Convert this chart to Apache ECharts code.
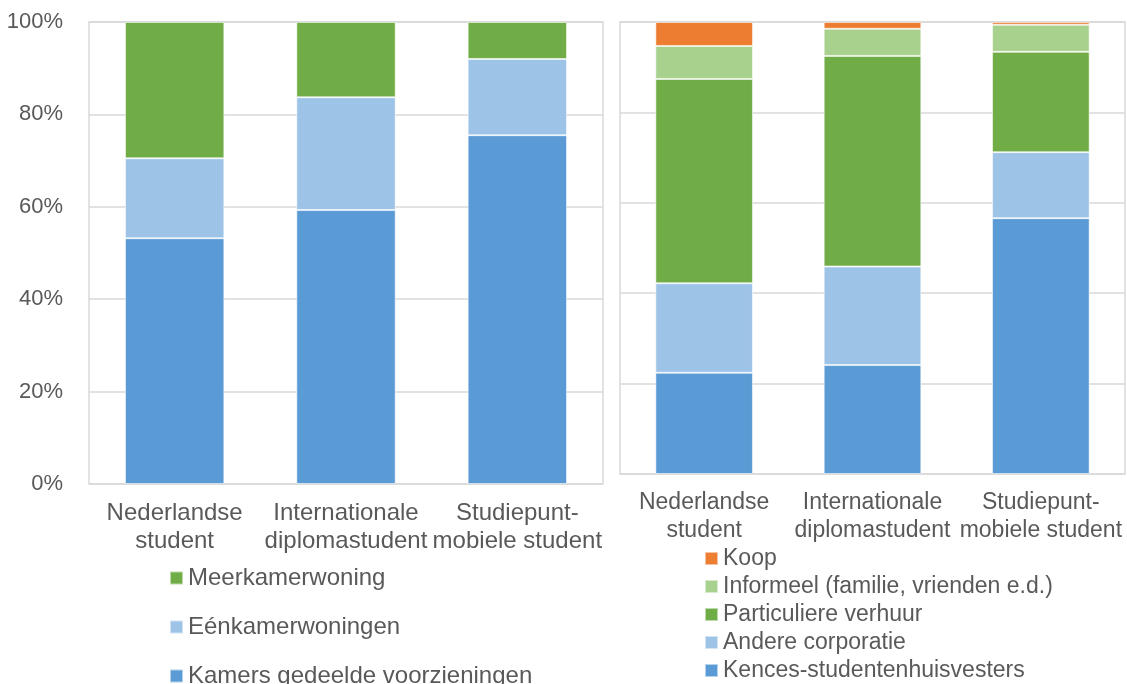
<!DOCTYPE html>
<html>
<head>
<meta charset="utf-8">
<script src="https://cdn.jsdelivr.net/npm/echarts@6/dist/echarts.min.js"></script>
<style>
html,body{margin:0;padding:0;background:#fff;}
#chart{width:1127px;height:684px;}
</style>
</head>
<body>
<div id="chart"></div>
<script>
// Categories (shared by both panels)
const categories = ['Nederlandse\nstudent', 'Internationale\ndiplomastudent', 'Studiepunt-\nmobiele student'];
const yTicks = [0, 20, 40, 60, 80, 100];

// Left panel: woningtype (%)
const kamersGedeeld = [53.2, 59.3, 75.5];
const eenkamer = [17.3, 24.4, 16.5];
const meerkamer = [29.5, 16.3, 8.0];

// Right panel: aanbieder (%)
const kences = [22.4, 24.1, 56.6];
const andereCorp = [19.8, 21.8, 14.6];
const particulier = [45.2, 46.6, 22.2];
const informeel = [7.3, 6.0, 6.0];
const koop = [5.3, 1.5, 0.6];

const TXT = '#595959';
const GRID = '#d9d9d9';
const FONT = 'Liberation Sans, Arial, sans-serif';

function yAxis(idx, showLabels) {
  return {
    type: 'value', gridIndex: idx, min: 0, max: 100, interval: 20,
    axisLine: {show: false}, axisTick: {show: false},
    axisLabel: {show: showLabels, formatter: v => v + '%', color: TXT, fontSize: 22, fontFamily: FONT, margin: 26},
    splitLine: {lineStyle: {color: GRID, width: 1.5}}
  };
}
function xAxis(idx, fs) {
  return {
    type: 'category', gridIndex: idx, data: categories,
    axisLine: {show: false}, axisTick: {show: false},
    axisLabel: {color: TXT, fontSize: fs, fontFamily: FONT, lineHeight: 28, margin: 15, interval: 0}
  };
}
function bar(name, data, color, idx, stack) {
  return {
    name: name, type: 'bar', data: data, stack: stack,
    xAxisIndex: idx, yAxisIndex: idx, barWidth: '58%',
    itemStyle: {color: color, borderColor: 'rgba(255,255,255,0.55)', borderWidth: 1},
    emphasis: {disabled: true}
  };
}

const chart = echarts.init(document.getElementById('chart'), null, {renderer: 'canvas'});
chart.setOption({
  animation: false,
  textStyle: {fontFamily: FONT},
  grid: [
    {left: 89, top: 22, width: 514, height: 462, show: true, borderColor: GRID, borderWidth: 1.5, containLabel: false},
    {left: 620, top: 22, width: 505, height: 452, show: true, borderColor: GRID, borderWidth: 1.5, containLabel: false}
  ],
  xAxis: [xAxis(0, 24), xAxis(1, 23)],
  yAxis: [yAxis(0, true), yAxis(1, false)],
  legend: [
    {
      orient: 'vertical', left: 169, top: 566, width: 420, height: 200, padding: 0,
      itemWidth: 13, itemHeight: 13, itemGap: 25,
      icon: 'rect', textStyle: {color: TXT, fontSize: 24, fontFamily: FONT},
      data: ['Meerkamerwoning', 'Eénkamerwoningen', 'Kamers gedeelde voorzieningen'],
      selectedMode: false
    },
    {
      orient: 'vertical', left: 704, top: 547, width: 420, height: 200, padding: 0,
      itemWidth: 13, itemHeight: 13, itemGap: 5,
      icon: 'rect', textStyle: {color: TXT, fontSize: 23, fontFamily: FONT},
      data: ['Koop', 'Informeel (familie, vrienden e.d.)', 'Particuliere verhuur', 'Andere corporatie', 'Kences-studentenhuisvesters'],
      selectedMode: false
    }
  ],
  series: [
    bar('Kamers gedeelde voorzieningen', kamersGedeeld, '#5B9BD5', 0, 'L'),
    bar('Eénkamerwoningen', eenkamer, '#9DC3E6', 0, 'L'),
    bar('Meerkamerwoning', meerkamer, '#70AD47', 0, 'L'),
    bar('Kences-studentenhuisvesters', kences, '#5B9BD5', 1, 'R'),
    bar('Andere corporatie', andereCorp, '#9DC3E6', 1, 'R'),
    bar('Particuliere verhuur', particulier, '#70AD47', 1, 'R'),
    bar('Informeel (familie, vrienden e.d.)', informeel, '#A9D18E', 1, 'R'),
    bar('Koop', koop, '#ED7D31', 1, 'R')
  ]
});
</script>
</body>
</html>
